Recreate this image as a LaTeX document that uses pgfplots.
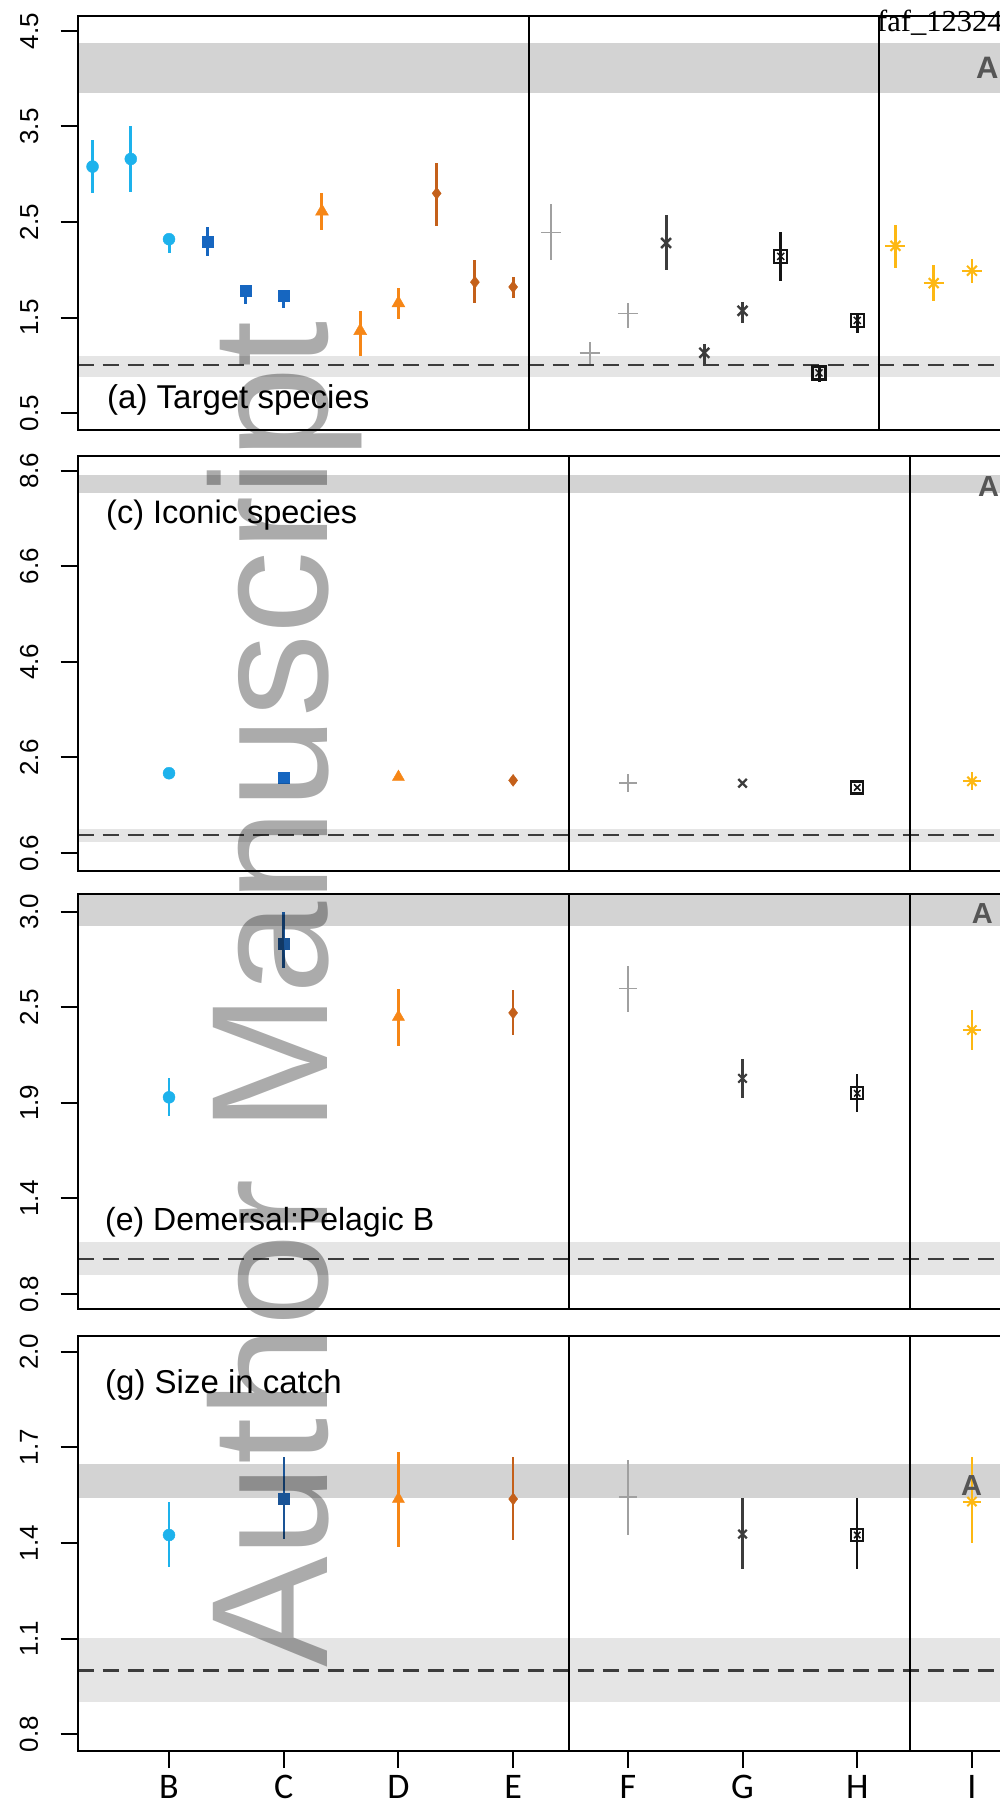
\documentclass[border=0pt]{standalone}
\usepackage{fontspec}
\setmainfont{Liberation Sans}
\newfontfamily\carlito{Carlito}
\newfontfamily\lserif{Liberation Serif}
\usepackage{graphicx}
\usepackage{pgfplots}
\pgfplotsset{compat=1.18}

\definecolor{cLB}{RGB}{29,178,236}
\definecolor{cB}{RGB}{22,102,192}
\definecolor{cBd}{RGB}{26,84,150}
\definecolor{cO}{RGB}{246,134,22}
\definecolor{cBr}{RGB}{196,96,26}
\definecolor{cGr}{RGB}{160,160,160}
\definecolor{cDk}{RGB}{60,60,60}
\definecolor{cBk}{RGB}{20,20,20}
\definecolor{cY}{RGB}{253,184,19}
\definecolor{bandU}{RGB}{211,211,211}
\definecolor{bandL}{RGB}{229,229,229}
\definecolor{dashc}{RGB}{60,60,60}
\definecolor{cA}{RGB}{85,85,85}

\pgfplotsset{
  panel/.style={scale only axis, width=1009.1pt, xmin=0.202, xmax=9.0,
    anchor=north west, axis on top, axis line style={line width=2pt},
    xtick=\empty, ytick pos=left, tick align=outside, major tick length=17pt,
    tick style={black, line width=2pt},
    yticklabel style={xshift=-22.5pt, rotate=90, anchor=base, inner sep=0pt,
      font=\fontsize{26}{26}\selectfont},
    /pgf/number format/assume math mode=true, clip=true},
  eb/.style={error bars/.cd, y dir=both, y explicit, error mark=none,
    error bar style={line width=#1}},
}
\tikzset{
  dline/.style={dashc, line width=2.2pt, dash pattern=on 16pt off 9pt},
  vline/.style={black, line width=1.3pt},
}

\begin{document}
\begin{tikzpicture}
\path[use as bounding box] (0pt,0pt) rectangle (999pt,-1806pt);

% ---------------- panel (a)
\begin{axis}[panel, at={(77.5pt,-16pt)}, height=414pt, ymin=0.322, ymax=4.657,
  ytick={0.5,1.5,2.5,3.5,4.5}, yticklabels={0.5,1.5,2.5,3.5,4.5}]
\fill[bandU] (axis cs:0,3.85) rectangle (axis cs:10,4.375);
\fill[bandL] (axis cs:0,0.873) rectangle (axis cs:10,1.10);
\draw[dline] (axis cs:0.202,1.0) -- (axis cs:10,1.0);
\draw[vline] (axis cs:4.138,0) -- (axis cs:4.138,10);
\draw[vline] (axis cs:7.19,0) -- (axis cs:7.19,10);
\addplot[cLB, only marks, mark=*, mark size=6pt, eb=3pt] coordinates {(0.3333,3.08) += (0,0.28) -= (0,0.28) (0.6667,3.16) += (0,0.34) -= (0,0.35) (1.0,2.32) += (0,0.04) -= (0,0.14)};
\addplot[cB, only marks, mark=square*, mark size=5.5pt, eb=3pt] coordinates {(1.3333,2.29) += (0,0.16) -= (0,0.15) (1.6667,1.78) += (0,0.02) -= (0,0.14) (2.0,1.73) += (0,0.02) -= (0,0.13)};
\addplot[cO, only marks, mark=triangle*, mark size=7.5pt, eb=3pt] coordinates {(2.3333,2.61) += (0,0.19) -= (0,0.19) (2.6667,1.36) += (0,0.21) -= (0,0.26) (3.0,1.65) += (0,0.16) -= (0,0.17)};
\addplot[cBr, only marks, mark=diamond*, mark size=6pt, eb=3pt] coordinates {(3.3333,2.80) += (0,0.32) -= (0,0.34) (3.6667,1.87) += (0,0.23) -= (0,0.22) (4.0,1.82) += (0,0.10) -= (0,0.12)};
\addplot[cGr, only marks, mark=+, mark size=10pt, mark options={line width=1.6pt}, eb=2pt] coordinates {(4.3333,2.39) += (0,0.30) -= (0,0.29) (4.6667,1.13) += (0,0.11) -= (0,0.12) (5.0,1.54) += (0,0.11) -= (0,0.15)};
\addplot[cDk, only marks, mark=x, mark size=7pt, mark options={line width=2.4pt}, eb=3pt] coordinates {(5.3333,2.28) += (0,0.29) -= (0,0.28) (5.6667,1.13) += (0,0.09) -= (0,0.13) (6.0,1.57) += (0,0.09) -= (0,0.13)};
\addplot[cBk, only marks, mark=square, mark size=6.5pt, mark options={line width=2.4pt}, eb=3pt] coordinates {(6.3333,2.14) += (0,0.26) -= (0,0.26) (6.6667,0.92) += (0,0.08) -= (0,0.10) (7.0,1.47) += (0,0.07) -= (0,0.13)};
\addplot[cBk, only marks, mark=x, mark size=5pt, mark options={line width=1.5pt}] coordinates {(6.3333,2.14) (6.6667,0.92) (7.0,1.47)};
\addplot[cY, only marks, mark=+, mark size=10pt, mark options={line width=2pt}, eb=2.5pt] coordinates {(7.3333,2.25) += (0,0.22) -= (0,0.23) (7.6667,1.86) += (0,0.19) -= (0,0.19) (8.0,1.99) += (0,0.12) -= (0,0.13)};
\addplot[cY, only marks, mark=x, mark size=7pt, mark options={line width=2pt}] coordinates {(7.3333,2.25) (7.6667,1.86) (8.0,1.99)};
\end{axis}

% ---------------- panel (c)
\begin{axis}[panel, at={(77.5pt,-456pt)}, height=415pt, ymin=0.2234, ymax=8.908,
  ytick={0.6,2.6,4.6,6.6,8.6}, yticklabels={0.6,2.6,4.6,6.6,8.6}]
\fill[bandU] (axis cs:0,8.127) rectangle (axis cs:10,8.51);
\fill[bandL] (axis cs:0,0.84) rectangle (axis cs:10,1.11);
\draw[dline] (axis cs:0.202,0.97) -- (axis cs:10,0.97);
\draw[vline] (axis cs:4.487,0) -- (axis cs:4.487,10);
\draw[vline] (axis cs:7.459,0) -- (axis cs:7.459,10);
\addplot[cLB, only marks, mark=*, mark size=6pt] coordinates {(1,2.27)};
\addplot[cB, only marks, mark=square*, mark size=5.5pt] coordinates {(2,2.17)};
\addplot[cO, only marks, mark=triangle*, mark size=7pt] coordinates {(3,2.19)};
\addplot[cBr, only marks, mark=diamond*, mark size=6pt] coordinates {(4,2.12)};
\addplot[cGr, only marks, mark=+, mark size=9pt, mark options={line width=1.6pt}] coordinates {(5,2.06)};
\addplot[cDk, only marks, mark=x, mark size=6pt, mark options={line width=2.4pt}] coordinates {(6,2.06)};
\addplot[cBk, only marks, mark=square, mark size=6pt, mark options={line width=2.4pt}] coordinates {(7,1.97)};
\addplot[cBk, only marks, mark=x, mark size=4.5pt, mark options={line width=1.5pt}] coordinates {(7,1.97)};
\addplot[cY, only marks, mark=+, mark size=9pt, mark options={line width=2pt}] coordinates {(8,2.10)};
\addplot[cY, only marks, mark=x, mark size=6.5pt, mark options={line width=2pt}] coordinates {(8,2.10)};
\end{axis}

% ---------------- panel (e)
\begin{axis}[panel, at={(77.5pt,-894pt)}, height=415pt, ymin=0.7137, ymax=3.102,
  ytick={0.8,1.35,1.9,2.45,3.0}, yticklabels={0.8,1.4,1.9,2.5,3.0}]
\fill[bandU] (axis cs:0,2.92) rectangle (axis cs:10,3.3);
\fill[bandL] (axis cs:0,0.909) rectangle (axis cs:10,1.10);
\draw[dline] (axis cs:0.202,1.0) -- (axis cs:10,1.0);
\draw[vline] (axis cs:4.487,0) -- (axis cs:4.487,10);
\draw[vline] (axis cs:7.459,0) -- (axis cs:7.459,10);
\addplot[cLB, only marks, mark=*, mark size=6pt, eb=2.5pt] coordinates {(1,1.932) += (0,0.11) -= (0,0.11)};
\addplot[cBd, only marks, mark=square*, mark size=5.5pt, eb=2.5pt] coordinates {(2,2.818) += (0,0.18) -= (0,0.14)};
\addplot[cO, only marks, mark=triangle*, mark size=7pt, eb=2.5pt] coordinates {(3,2.395) += (0,0.16) -= (0,0.17)};
\addplot[cBr, only marks, mark=diamond*, mark size=6pt, eb=2.5pt] coordinates {(4,2.418) += (0,0.13) -= (0,0.13)};
\addplot[cGr, only marks, mark=+, mark size=9pt, mark options={line width=1.6pt}, eb=2pt] coordinates {(5,2.559) += (0,0.13) -= (0,0.135)};
\addplot[cDk, only marks, mark=x, mark size=6pt, mark options={line width=2.2pt}, eb=2.2pt] coordinates {(6,2.041) += (0,0.11) -= (0,0.115)};
\addplot[cBk, only marks, mark=square, mark size=6pt, mark options={line width=2.2pt}, eb=2.2pt] coordinates {(7,1.955) += (0,0.11) -= (0,0.106)};
\addplot[cBk, only marks, mark=x, mark size=4.5pt, mark options={line width=1.5pt}] coordinates {(7,1.955)};
\addplot[cY, only marks, mark=+, mark size=9pt, mark options={line width=2pt}, eb=2.2pt] coordinates {(8,2.319) += (0,0.115) -= (0,0.115)};
\addplot[cY, only marks, mark=x, mark size=6.5pt, mark options={line width=2pt}] coordinates {(8,2.319)};
\end{axis}

% ---------------- panel (g)
\begin{axis}[panel, at={(77.5pt,-1336pt)}, height=415pt, ymin=0.7476, ymax=2.0492,
  ytick={0.8,1.1,1.4,1.7,2.0}, yticklabels={0.8,1.1,1.4,1.7,2.0},
  xtick={1,2,3,4,5,6,7,8}, xticklabels={B,C,D,E,F,G,H,I}, xtick pos=bottom,
  xticklabel style={yshift=-30pt, anchor=base, inner sep=0pt, font=\carlito\fontsize{36}{36}\selectfont}]
\fill[bandU] (axis cs:0,1.542) rectangle (axis cs:10,1.648);
\fill[bandL] (axis cs:0,0.901) rectangle (axis cs:10,1.103);
\draw[dline] (axis cs:0.202,1.0) -- (axis cs:10,1.0);
\draw[vline] (axis cs:4.487,0) -- (axis cs:4.487,10);
\draw[vline] (axis cs:7.459,0) -- (axis cs:7.459,10);
\addplot[cLB, only marks, mark=*, mark size=6pt, eb=2.5pt] coordinates {(1,1.425) += (0,0.105) -= (0,0.101)};
\addplot[cBd, only marks, mark=square*, mark size=5.5pt, eb=2.2pt] coordinates {(2,1.538) += (0,0.133) -= (0,0.126)};
\addplot[cO, only marks, mark=triangle*, mark size=7pt, eb=2.2pt] coordinates {(3,1.538) += (0,0.149) -= (0,0.149)};
\addplot[cBr, only marks, mark=diamond*, mark size=6pt, eb=2.2pt] coordinates {(4,1.538) += (0,0.133) -= (0,0.128)};
\addplot[cGr, only marks, mark=+, mark size=9pt, mark options={line width=1.6pt}, eb=2pt] coordinates {(5,1.545) += (0,0.115) -= (0,0.12)};
\addplot[cDk, only marks, mark=x, mark size=6pt, mark options={line width=2.2pt}, eb=2.2pt] coordinates {(6,1.428) += (0,0.112) -= (0,0.108)};
\addplot[cBk, only marks, mark=square, mark size=6pt, mark options={line width=2.2pt}, eb=2.2pt] coordinates {(7,1.425) += (0,0.115) -= (0,0.105)};
\addplot[cBk, only marks, mark=x, mark size=4.5pt, mark options={line width=1.5pt}] coordinates {(7,1.425)};
\addplot[cY, only marks, mark=+, mark size=9pt, mark options={line width=2pt}, eb=2.2pt] coordinates {(8,1.53) += (0,0.141) -= (0,0.13)};
\addplot[cY, only marks, mark=x, mark size=6.5pt, mark options={line width=2pt}] coordinates {(8,1.53)};
\end{axis}

% ---------------- texts
\node[anchor=base west, inner sep=0pt, font=\fontsize{33}{33}\selectfont] at (107pt,-408pt) {(a) Target species};
\node[anchor=base west, inner sep=0pt, font=\fontsize{32.5}{32.5}\selectfont] at (106pt,-523pt) {(c) Iconic species};
\node[anchor=base west, inner sep=0pt, font=\fontsize{32}{32}\selectfont] at (105pt,-1230pt) {(e) Demersal:Pelagic B};
\node[anchor=base west, inner sep=0pt, font=\fontsize{33}{33}\selectfont] at (105pt,-1393pt) {(g) Size in catch};

\node[anchor=west, inner sep=0pt, text=cA, font=\bfseries\fontsize{31}{31}\selectfont] at (976pt,-68pt) {A};
\node[anchor=west, inner sep=0pt, text=cA, font=\bfseries\fontsize{29}{29}\selectfont] at (978pt,-487pt) {A};
\node[anchor=west, inner sep=0pt, text=cA, font=\bfseries\fontsize{29}{29}\selectfont] at (971.6pt,-914pt) {A};
\node[anchor=west, inner sep=0pt, text=cA, font=\bfseries\fontsize{29}{29}\selectfont] at (961pt,-1486pt) {A};

\node[anchor=base west, inner sep=0pt, font=\lserif\fontsize{30.5}{30.5}\selectfont] at (877pt,-32pt) {faf\_12324};

% watermark
\node[rotate=90, anchor=base west, inner sep=0pt, text=black, text opacity=0.33,
  font=\fontsize{166}{166}\selectfont] at (327pt,-1668pt) {Author Manuscript};
\end{tikzpicture}
\end{document}
